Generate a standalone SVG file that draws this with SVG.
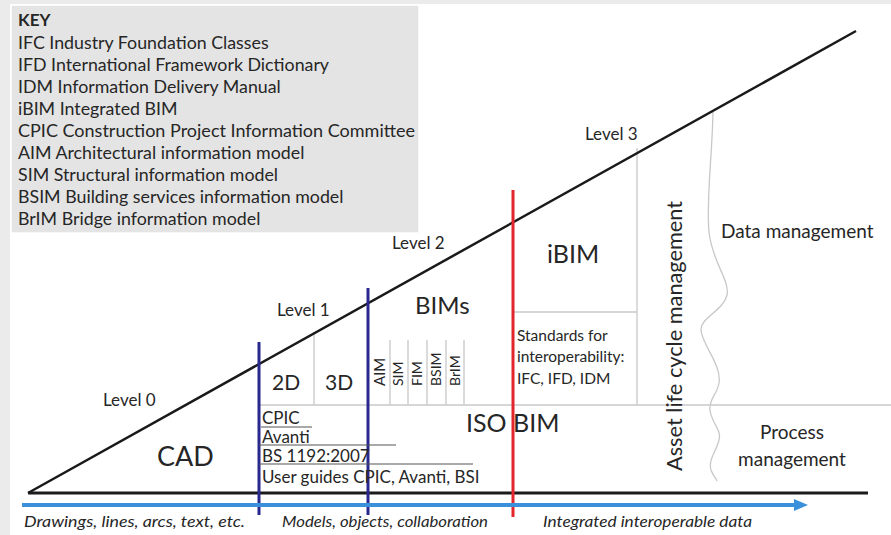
<svg xmlns="http://www.w3.org/2000/svg" width="891" height="535" viewBox="0 0 891 535">
<defs>
<style>
text{font-family:"Lato","Open Sans","DejaVu Sans",sans-serif;fill:#262626}
.key{font-size:17.8px}
.lbl{font-size:17px}
.big{font-size:25px}
.rot{font-size:14px}
.it{font-style:italic;font-size:16px}
.g{stroke:#c8c8c8;stroke-width:1.3;fill:none}
.ul{stroke:#555;stroke-width:1.2}
.blue{stroke:#29288e;stroke-width:3}
</style>
<marker id="ah" markerWidth="14" markerHeight="12" refX="1" refY="6" orient="auto" markerUnits="userSpaceOnUse" viewBox="0 0 14 12">
<path d="M0,0 L14,6 L0,12 Z" fill="#3a90db"/>
</marker>
</defs>
<rect x="0" y="0" width="891" height="535" fill="#ffffff"/>
<rect x="0" y="0" width="10" height="535" fill="#ebebeb"/>
<rect x="0" y="0" width="891" height="4" fill="#ebebeb"/>
<g id="key">
<rect x="11" y="5" width="408" height="228" fill="#e4e4e4" stroke="#ffffff" stroke-width="1.5"/>
<text x="18" y="26" style="font-size:17px;font-weight:bold">KEY</text>
<text class="key" x="18" y="49">IFC Industry Foundation Classes</text>
<text class="key" x="18" y="71">IFD International Framework Dictionary</text>
<text class="key" x="18" y="93">IDM Information Delivery Manual</text>
<text class="key" x="18" y="115">iBIM Integrated BIM</text>
<text class="key" x="18" y="137" textLength="397" lengthAdjust="spacingAndGlyphs">CPIC Construction Project Information Committee</text>
<text class="key" x="18" y="159">AIM Architectural information model</text>
<text class="key" x="18" y="181">SIM Structural information model</text>
<text class="key" x="18" y="203">BSIM Building services information model</text>
<text class="key" x="18" y="225">BrIM Bridge information model</text>
</g>
<g id="grid">
<line class="g" x1="259" y1="405" x2="891" y2="405"/>
<line class="g" x1="314" y1="334" x2="314" y2="405"/>
<line class="g" x1="390" y1="340" x2="390" y2="405"/>
<line class="g" x1="408" y1="340" x2="408" y2="405"/>
<line class="g" x1="427" y1="340" x2="427" y2="405"/>
<line class="g" x1="446" y1="340" x2="446" y2="405"/>
<line class="g" x1="464" y1="340" x2="464" y2="405"/>
<line class="g" x1="513" y1="312" x2="637" y2="312"/>
<line class="g" x1="637" y1="148" x2="637" y2="405"/>
<path class="g" d="M713,112 C712,160 706,200 709,232 C712,262 730,280 727,295 C724,310 700,318 701,330 C702,345 722,365 719,383 C717,395 709,398 710,410 C711,422 722,430 719,440 C716,452 708,460 711,470 C713,476 716,478 717,481"/>
</g>
<g id="triangle">
<line x1="28" y1="493" x2="868" y2="493" stroke="#1a1a1a" stroke-width="3"/>
<line x1="28" y1="493" x2="856" y2="31" stroke="#1a1a1a" stroke-width="2.5"/>
</g>
<g id="dividers">
<line class="blue" x1="259" y1="342" x2="259" y2="515"/>
<line class="blue" x1="368" y1="288" x2="368" y2="515"/>
<line x1="513" y1="190" x2="513" y2="517" stroke="#e2262b" stroke-width="3"/>
</g>
<g id="arrow">
<line x1="22" y1="505" x2="795" y2="505" stroke="#3a90db" stroke-width="4" marker-end="url(#ah)"/>
</g>
<g id="level0">
<text class="lbl" x="103" y="406">Level 0</text>
<text x="157" y="466" style="font-size:27px">CAD</text>
</g>
<g id="level1">
<text class="lbl" x="277" y="316">Level 1</text>
<text x="272" y="390" style="font-size:21px">2D</text>
<text x="325" y="390" style="font-size:21px">3D</text>
</g>
<g id="standards1">
<text class="lbl" x="262" y="424">CPIC</text>
<line class="ul" x1="261" y1="427" x2="312" y2="427"/>
<text class="lbl" x="262" y="443">Avanti</text>
<line class="ul" x1="259" y1="445" x2="396" y2="445"/>
<text class="lbl" x="262" y="462">BS 1192:2007</text>
<line class="ul" x1="259" y1="464" x2="473" y2="464"/>
<text class="lbl" x="262" y="483">User guides CPIC, Avanti, BSI</text>
</g>
<g id="level2">
<text class="lbl" x="392" y="249">Level 2</text>
<text x="415" y="314" style="font-size:24px">BIMs</text>
<text class="rot" transform="translate(385,386) rotate(-90)" style="font-size:15px">AIM</text>
<text class="rot" transform="translate(403,386) rotate(-90)">SIM</text>
<text class="rot" transform="translate(422,386) rotate(-90)">FIM</text>
<text class="rot" transform="translate(441,386) rotate(-90)">BSIM</text>
<text class="rot" transform="translate(460,386) rotate(-90)">BrIM</text>
<text class="big" x="466" y="432">ISO BIM</text>
</g>
<g id="level3">
<text class="lbl" x="585" y="140">Level 3</text>
<text class="big" x="547" y="263">iBIM</text>
<text x="517" y="341" style="font-size:15.5px">Standards for</text>
<text x="517" y="362" style="font-size:15.5px">interoperability:</text>
<text x="517" y="384" style="font-size:15.5px">IFC, IFD, IDM</text>
</g>
<g id="asset">
<text transform="translate(682,471) rotate(-90)" style="font-size:21px" textLength="270" lengthAdjust="spacingAndGlyphs">Asset life cycle management</text>
</g>
<g id="data">
<text x="721" y="238" style="font-size:19px">Data management</text>
</g>
<g id="process">
<text x="792" y="439" text-anchor="middle" style="font-size:19px">Process</text>
<text x="792" y="466" text-anchor="middle" style="font-size:19px">management</text>
</g>
<g id="phases">
<text class="it" x="24" y="527" textLength="221" lengthAdjust="spacingAndGlyphs">Drawings, lines, arcs, text, etc.</text>
<text class="it" x="282" y="527" textLength="206" lengthAdjust="spacingAndGlyphs">Models, objects, collaboration</text>
<text class="it" x="543" y="527" textLength="209" lengthAdjust="spacingAndGlyphs">Integrated interoperable data</text>
</g>
</svg>
